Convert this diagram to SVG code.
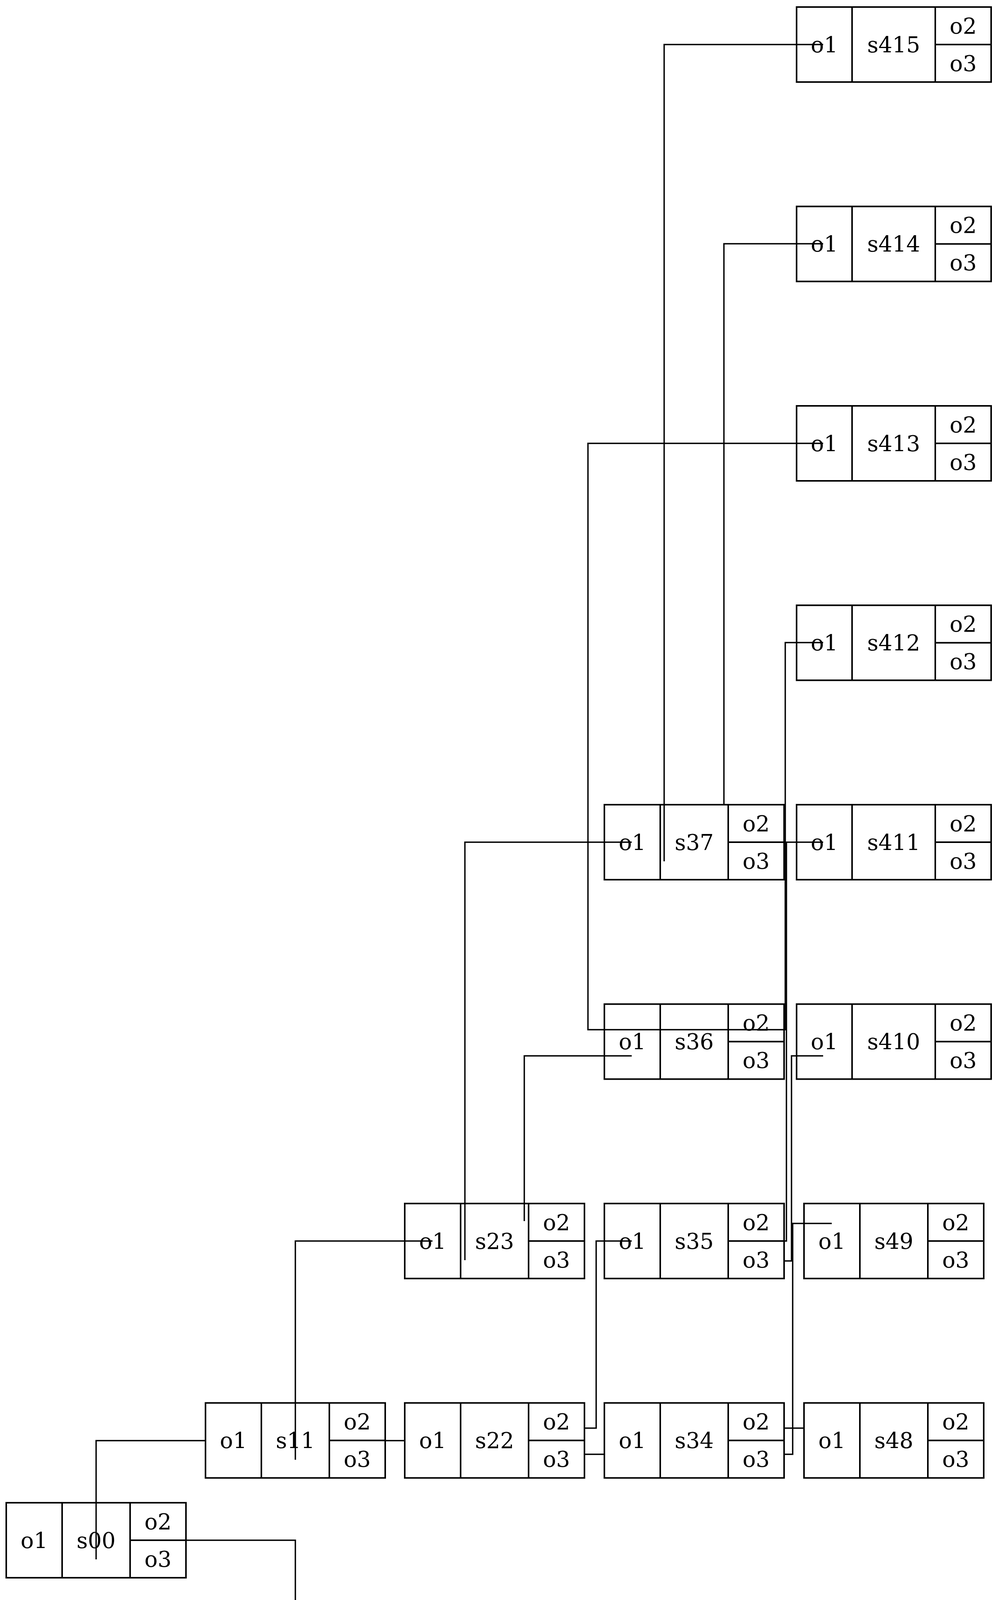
<svg xmlns="http://www.w3.org/2000/svg" width="2552" height="7886" viewBox="0 0 2552 7886">
<style>
.n rect{fill:#fff;stroke:#000;stroke-width:4}
.n path{fill:none;stroke:#000;stroke-width:4}
.n text{font-family:"DejaVu Serif",serif;font-size:56px;text-anchor:middle;dominant-baseline:central;fill:#000}
#edges path{fill:none;stroke:#000;stroke-width:3.5}
</style>
<rect width="2552" height="7886" fill="#fff"/>
<g id="s00" class="n" transform="translate(16,3847)"><rect width="460" height="192"/><path d="M143,0V192M317,0V192M317,96H460"/><text x="71.5" y="96">o1</text><text x="230" y="96">s00</text><text x="388.5" y="48">o2</text><text x="388.5" y="144">o3</text></g>
<g id="s11" class="n" transform="translate(526,3591.5)"><rect width="460" height="192"/><path d="M143,0V192M317,0V192M317,96H460"/><text x="71.5" y="96">o1</text><text x="230" y="96">s11</text><text x="388.5" y="48">o2</text><text x="388.5" y="144">o3</text></g>
<g id="s10" class="n" transform="translate(526,4102)"><rect width="460" height="192"/><path d="M143,0V192M317,0V192M317,96H460"/><text x="71.5" y="96">o1</text><text x="230" y="96">s10</text><text x="388.5" y="48">o2</text><text x="388.5" y="144">o3</text></g>
<g id="s23" class="n" transform="translate(1036,3081)"><rect width="460" height="192"/><path d="M143,0V192M317,0V192M317,96H460"/><text x="71.5" y="96">o1</text><text x="230" y="96">s23</text><text x="388.5" y="48">o2</text><text x="388.5" y="144">o3</text></g>
<g id="s22" class="n" transform="translate(1036,3591.5)"><rect width="460" height="192"/><path d="M143,0V192M317,0V192M317,96H460"/><text x="71.5" y="96">o1</text><text x="230" y="96">s22</text><text x="388.5" y="48">o2</text><text x="388.5" y="144">o3</text></g>
<g id="s21" class="n" transform="translate(1036,4102)"><rect width="460" height="192"/><path d="M143,0V192M317,0V192M317,96H460"/><text x="71.5" y="96">o1</text><text x="230" y="96">s21</text><text x="388.5" y="48">o2</text><text x="388.5" y="144">o3</text></g>
<g id="s20" class="n" transform="translate(1036,4612.5)"><rect width="460" height="192"/><path d="M143,0V192M317,0V192M317,96H460"/><text x="71.5" y="96">o1</text><text x="230" y="96">s20</text><text x="388.5" y="48">o2</text><text x="388.5" y="144">o3</text></g>
<g id="s37" class="n" transform="translate(1547,2060)"><rect width="460" height="192"/><path d="M143,0V192M317,0V192M317,96H460"/><text x="71.5" y="96">o1</text><text x="230" y="96">s37</text><text x="388.5" y="48">o2</text><text x="388.5" y="144">o3</text></g>
<g id="s36" class="n" transform="translate(1547,2570.5)"><rect width="460" height="192"/><path d="M143,0V192M317,0V192M317,96H460"/><text x="71.5" y="96">o1</text><text x="230" y="96">s36</text><text x="388.5" y="48">o2</text><text x="388.5" y="144">o3</text></g>
<g id="s35" class="n" transform="translate(1547,3081)"><rect width="460" height="192"/><path d="M143,0V192M317,0V192M317,96H460"/><text x="71.5" y="96">o1</text><text x="230" y="96">s35</text><text x="388.5" y="48">o2</text><text x="388.5" y="144">o3</text></g>
<g id="s34" class="n" transform="translate(1547,3591.5)"><rect width="460" height="192"/><path d="M143,0V192M317,0V192M317,96H460"/><text x="71.5" y="96">o1</text><text x="230" y="96">s34</text><text x="388.5" y="48">o2</text><text x="388.5" y="144">o3</text></g>
<g id="s33" class="n" transform="translate(1547,4102)"><rect width="460" height="192"/><path d="M143,0V192M317,0V192M317,96H460"/><text x="71.5" y="96">o1</text><text x="230" y="96">s33</text><text x="388.5" y="48">o2</text><text x="388.5" y="144">o3</text></g>
<g id="s32" class="n" transform="translate(1547,4612.5)"><rect width="460" height="192"/><path d="M143,0V192M317,0V192M317,96H460"/><text x="71.5" y="96">o1</text><text x="230" y="96">s32</text><text x="388.5" y="48">o2</text><text x="388.5" y="144">o3</text></g>
<g id="s31" class="n" transform="translate(1547,5123)"><rect width="460" height="192"/><path d="M143,0V192M317,0V192M317,96H460"/><text x="71.5" y="96">o1</text><text x="230" y="96">s31</text><text x="388.5" y="48">o2</text><text x="388.5" y="144">o3</text></g>
<g id="s30" class="n" transform="translate(1547,5633.5)"><rect width="460" height="192"/><path d="M143,0V192M317,0V192M317,96H460"/><text x="71.5" y="96">o1</text><text x="230" y="96">s30</text><text x="388.5" y="48">o2</text><text x="388.5" y="144">o3</text></g>
<g id="s415" class="n" transform="translate(2039,18)"><rect width="498" height="192"/><path d="M142,0V192M355,0V192M355,96H498"/><text x="71" y="96">o1</text><text x="248.5" y="96">s415</text><text x="426.5" y="48">o2</text><text x="426.5" y="144">o3</text></g>
<g id="s414" class="n" transform="translate(2039,528.5)"><rect width="498" height="192"/><path d="M142,0V192M355,0V192M355,96H498"/><text x="71" y="96">o1</text><text x="248.5" y="96">s414</text><text x="426.5" y="48">o2</text><text x="426.5" y="144">o3</text></g>
<g id="s413" class="n" transform="translate(2039,1039)"><rect width="498" height="192"/><path d="M142,0V192M355,0V192M355,96H498"/><text x="71" y="96">o1</text><text x="248.5" y="96">s413</text><text x="426.5" y="48">o2</text><text x="426.5" y="144">o3</text></g>
<g id="s412" class="n" transform="translate(2039,1549.5)"><rect width="498" height="192"/><path d="M142,0V192M355,0V192M355,96H498"/><text x="71" y="96">o1</text><text x="248.5" y="96">s412</text><text x="426.5" y="48">o2</text><text x="426.5" y="144">o3</text></g>
<g id="s411" class="n" transform="translate(2039,2060)"><rect width="498" height="192"/><path d="M142,0V192M355,0V192M355,96H498"/><text x="71" y="96">o1</text><text x="248.5" y="96">s411</text><text x="426.5" y="48">o2</text><text x="426.5" y="144">o3</text></g>
<g id="s410" class="n" transform="translate(2039,2570.5)"><rect width="498" height="192"/><path d="M142,0V192M355,0V192M355,96H498"/><text x="71" y="96">o1</text><text x="248.5" y="96">s410</text><text x="426.5" y="48">o2</text><text x="426.5" y="144">o3</text></g>
<g id="s49" class="n" transform="translate(2058,3081)"><rect width="460" height="192"/><path d="M143,0V192M317,0V192M317,96H460"/><text x="71.5" y="96">o1</text><text x="230" y="96">s49</text><text x="388.5" y="48">o2</text><text x="388.5" y="144">o3</text></g>
<g id="s48" class="n" transform="translate(2058,3591.5)"><rect width="460" height="192"/><path d="M143,0V192M317,0V192M317,96H460"/><text x="71.5" y="96">o1</text><text x="230" y="96">s48</text><text x="388.5" y="48">o2</text><text x="388.5" y="144">o3</text></g>
<g id="s47" class="n" transform="translate(2058,4102)"><rect width="460" height="192"/><path d="M143,0V192M317,0V192M317,96H460"/><text x="71.5" y="96">o1</text><text x="230" y="96">s47</text><text x="388.5" y="48">o2</text><text x="388.5" y="144">o3</text></g>
<g id="s46" class="n" transform="translate(2058,4612.5)"><rect width="460" height="192"/><path d="M143,0V192M317,0V192M317,96H460"/><text x="71.5" y="96">o1</text><text x="230" y="96">s46</text><text x="388.5" y="48">o2</text><text x="388.5" y="144">o3</text></g>
<g id="s45" class="n" transform="translate(2058,5123)"><rect width="460" height="192"/><path d="M143,0V192M317,0V192M317,96H460"/><text x="71.5" y="96">o1</text><text x="230" y="96">s45</text><text x="388.5" y="48">o2</text><text x="388.5" y="144">o3</text></g>
<g id="s44" class="n" transform="translate(2058,5633.5)"><rect width="460" height="192"/><path d="M143,0V192M317,0V192M317,96H460"/><text x="71.5" y="96">o1</text><text x="230" y="96">s44</text><text x="388.5" y="48">o2</text><text x="388.5" y="144">o3</text></g>
<g id="s43" class="n" transform="translate(2058,6144)"><rect width="460" height="192"/><path d="M143,0V192M317,0V192M317,96H460"/><text x="71.5" y="96">o1</text><text x="230" y="96">s43</text><text x="388.5" y="48">o2</text><text x="388.5" y="144">o3</text></g>
<g id="s42" class="n" transform="translate(2058,6654.5)"><rect width="460" height="192"/><path d="M143,0V192M317,0V192M317,96H460"/><text x="71.5" y="96">o1</text><text x="230" y="96">s42</text><text x="388.5" y="48">o2</text><text x="388.5" y="144">o3</text></g>
<g id="s41" class="n" transform="translate(2058,7165)"><rect width="460" height="192"/><path d="M143,0V192M317,0V192M317,96H460"/><text x="71.5" y="96">o1</text><text x="230" y="96">s41</text><text x="388.5" y="48">o2</text><text x="388.5" y="144">o3</text></g>
<g id="s40" class="n" transform="translate(2058,7675.5)"><rect width="460" height="192"/><path d="M143,0V192M317,0V192M317,96H460"/><text x="71.5" y="96">o1</text><text x="230" y="96">s40</text><text x="388.5" y="48">o2</text><text x="388.5" y="144">o3</text></g>
<g id="edges">
<path d="M246,3992V3688H526"/>
<path d="M476,3943H756V4710H1107"/>
<path d="M756,3737V3177H1107"/>
<path d="M986,3688H1036"/>
<path d="M986,4198H1036"/>
<path d="M1190,3226V2156H1617"/>
<path d="M1342,3126V2703H1617"/>
<path d="M1497,3656H1526V3177H1617"/>
<path d="M1497,3723H1547"/>
<path d="M1497,4169H1547"/>
<path d="M1497,4231H1537V4709H1617"/>
<path d="M1190,4659V5730H1617"/>
<path d="M1342,4758V5253H1617"/>
<path d="M1700,2205V114H2107"/>
<path d="M1853,2060V624H2107"/>
<path d="M2006,2636H1505V1135H2107"/>
<path d="M2006,2636H2010V1645H2107"/>
<path d="M2006,3177H2013V2156H2107"/>
<path d="M2006,3228H2026V2703H2107"/>
<path d="M2006,3723H2029V3132H2129"/>
<path d="M2006,3656H2058"/>
<path d="M2006,4169H2036V4709H2129"/>
<path d="M2006,4231H2058"/>
<path d="M2006,4661H2031V5190H2129"/>
<path d="M2006,4761H2021V5731H2129"/>
<path d="M2006,5190H1516V6750H2129"/>
<path d="M1961,5253H2016V6240H2129"/>
<path d="M1700,5681V7771H2129"/>
<path d="M1853,5825V7261H2129"/>
</g>
</svg>
